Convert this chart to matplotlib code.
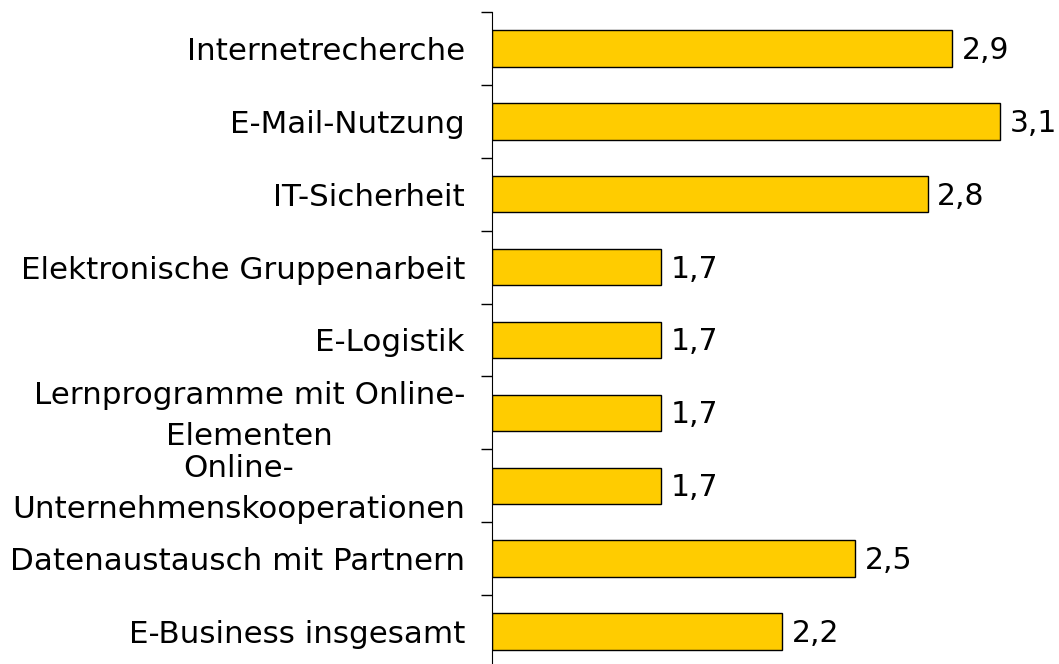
import numpy as np
import matplotlib.pyplot as plt
from matplotlib.transforms import ScaledTranslation

kategorien = ['Internetrecherche', 'E-Mail-Nutzung', 'IT-Sicherheit',
              'Elektronische Gruppenarbeit', 'E-Logistik',
              'Lernprogramme mit Online-\nElementen',
              'Online-\nUnternehmenskooperationen',
              'Datenaustausch mit Partnern', 'E-Business insgesamt']
werte = [2.9, 3.1, 2.8, 1.7, 1.7, 1.7, 1.7, 2.5, 2.2]

fig = plt.figure(figsize=(10.59, 6.64), dpi=100)
ax = fig.add_axes([492 / 1059, -4 / 664, 567 / 1059, 656 / 664])
runter = ScaledTranslation(0, -2 / 100, fig.dpi_scale_trans)

y = np.arange(len(kategorien))
# Achse beginnt bei 1
ax.barh(y, [w - 1 for w in werte], left=1, height=0.5,
        color='#FFCC00', edgecolor='black', linewidth=1)

for yi, w in zip(y, werte):
    ax.text(w + 0.04, yi, f'{w:.1f}'.replace('.', ','), va='center',
            ha='left', fontsize=21.5, color='black',
            transform=ax.transData + runter)

ax.set_xlim(1, 1 + 567 / 242)
ax.set_ylim(len(kategorien) - 0.5, -0.5)
# Beschriftungen ein paar Pixel tiefer (unsichtbare Haupt-Ticks)
ax.set_yticks(y + 0.04)
ax.set_yticklabels(kategorien, fontsize=22.3, linespacing=1.52,
                   multialignment='center', va='center')
ax.set_yticks(np.arange(len(kategorien) + 1) - 0.5, minor=True)
ax.tick_params(axis='y', which='major', length=0, pad=19.5)
ax.tick_params(axis='y', which='minor', length=8, width=1)
ax.set_xticks([])
for s in ['top', 'right', 'bottom']:
    ax.spines[s].set_visible(False)

plt.savefig('out.png', dpi=100)
